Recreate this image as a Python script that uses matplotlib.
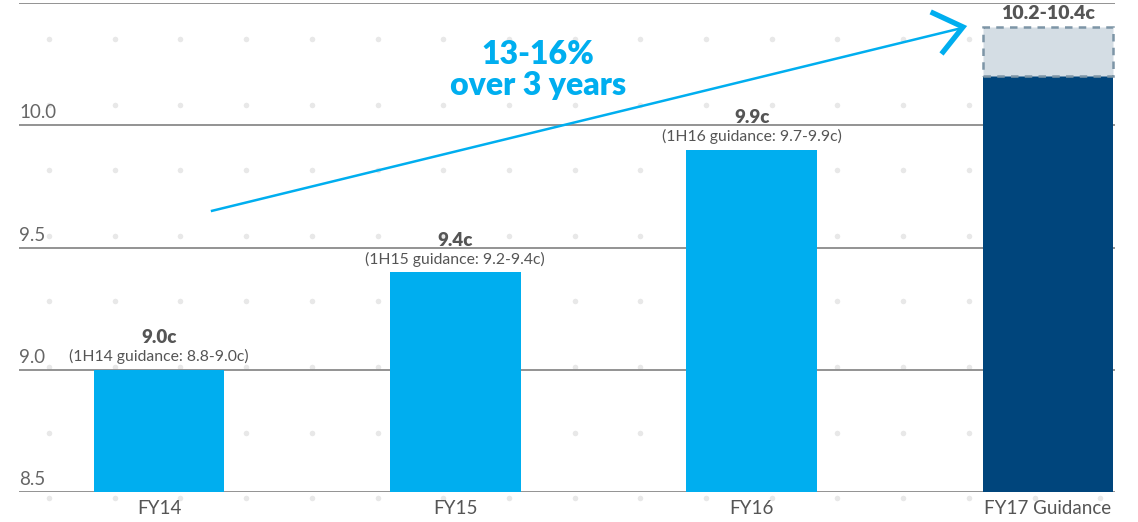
import matplotlib.pyplot as plt
import numpy as np
from matplotlib.transforms import blended_transform_factory

plt.rcParams['font.family'] = ['Lato', 'DejaVu Sans']

# Dividend per share, cents
years = ['FY14', 'FY15', 'FY16', 'FY17 Guidance']
dps = [9.0, 9.4, 9.9, 10.2]
dps_labels = ['9.0c', '9.4c', '9.9c']
guidance_notes = ['(1H14 guidance: 8.8-9.0c)', '(1H15 guidance: 9.2-9.4c)',
                  '(1H16 guidance: 9.7-9.9c)']
fy17_low, fy17_high = 10.2, 10.4
fy17_label = '10.2-10.4c'
gridlines = [8.5, 9.0, 9.5, 10.0, 10.5]
ytick_labels = ['8.5', '9.0', '9.5', '10.0']

light_blue = '#00aeef'
dark_blue = '#00457c'
text_grey = '#555555'

fig = plt.figure(figsize=(11.38, 5.22), dpi=100)
ax = fig.add_axes([19 / 1138, 1 - 492 / 522, (1115 - 19) / 1138, 489 / 522])
ax.set_xlim(-0.4725, 3.226)
ax.set_ylim(8.5, 10.5)

# background dot pattern
dx = 49 + 65.7 * np.arange(17)
dy = 39 + 65.6 * np.arange(8)
gx, gy = np.meshgrid(dx / 1138, 1 - dy / 522)
ax.scatter(gx.ravel(), gy.ravel(), s=16, color='#e8e8e8', transform=fig.transFigure,
           clip_on=False, zorder=0, linewidths=0)

for g in gridlines:
    ax.axhline(g, color='#8a8a8a', lw=1.3, zorder=1)

x = np.arange(len(years))
w = 0.44
colors = [light_blue] * 3 + [dark_blue]
ax.bar(x, np.array(dps) - 8.5, bottom=8.5, width=w, color=colors, zorder=2)

# FY17 guidance range
ax.bar(x[3], fy17_high - fy17_low, bottom=fy17_low, width=w, color='#d4dde4',
       edgecolor='#7d95a6', linestyle=(0, (3, 2.5)), linewidth=1.8, zorder=2)

for i in range(3):
    ax.annotate(dps_labels[i], (x[i], dps[i]), xytext=(0, 19), textcoords='offset points',
                ha='center', va='baseline', fontsize=13.5, fontweight='heavy', color=text_grey)
    ax.annotate(guidance_notes[i], (x[i], dps[i]), xytext=(0, 6), textcoords='offset points',
                ha='center', va='baseline', fontsize=11.3, color=text_grey)
ax.annotate(fy17_label, (x[3], fy17_high), xytext=(0, 6), textcoords='offset points',
            ha='center', va='baseline', fontsize=14, fontweight='heavy', color=text_grey)

# y labels sit on top of their gridlines
tr = blended_transform_factory(ax.transAxes, ax.transData)
for g, lab in zip(gridlines, ytick_labels):
    ax.annotate(lab, (0, g), xycoords=tr, xytext=(0, 5), textcoords='offset points',
                ha='left', va='baseline', fontsize=13.5, color='#666666')

ax.set_xticks(x, years)
ax.tick_params(axis='x', length=0, pad=6, labelsize=13.5, labelcolor=text_grey)
ax.set_yticks([])
for s in ax.spines.values():
    s.set_visible(False)

# growth arrow
ax.plot([0.179, 2.70], [9.65, 10.395], color=light_blue, lw=1.8, zorder=3)
ax.plot([2.612, 2.713, 2.646], [10.459, 10.402, 10.30], color=light_blue, lw=3.8,
        solid_joinstyle='miter', clip_on=False, zorder=3)
ax.text(1.28, 10.225, '13-16%\nover 3 years', ha='center', va='center', fontsize=23,
        fontweight='heavy', color=light_blue, linespacing=1.1, zorder=4)

fig.savefig('out.png', dpi=100)
